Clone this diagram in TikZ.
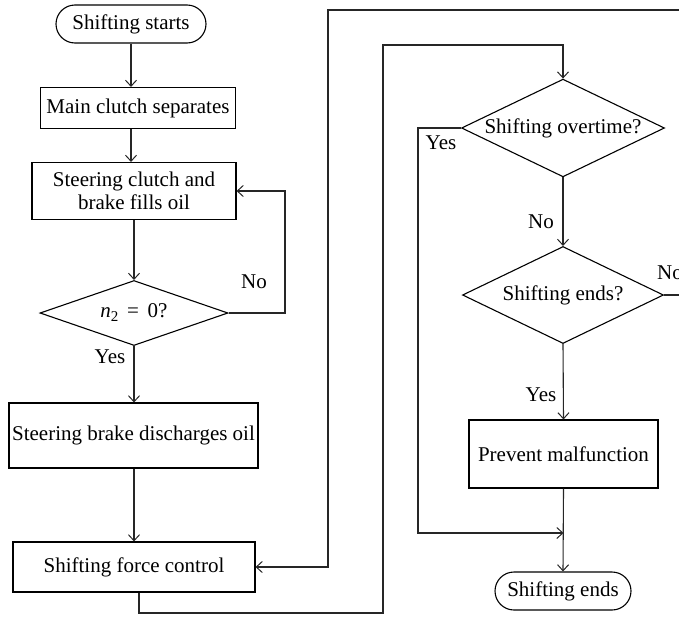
\documentclass[tikz,border=0pt]{standalone}
\usepackage{fontspec}
\setmainfont{Liberation Serif}
\usetikzlibrary{arrows.meta,shapes.geometric,shapes.misc}
\begin{document}
\begin{tikzpicture}[x=1pt,y=-1pt,
  every node/.style={font=\fontsize{21}{23}\selectfont},
  line/.style={line width=1.1pt, draw=black!85},
  arr/.style={line, -{Straight Barb[length=6pt,width=11pt,line width=1pt]}},
  procbox/.style={draw, line width=1.1pt, rectangle, inner sep=0pt, align=center},
  decide/.style={draw, line width=1.1pt, diamond, inner sep=0pt, shape aspect=2},
  term/.style={draw, line width=1.1pt, rounded rectangle, inner sep=0pt},
  lbl/.style={inner sep=0pt}]
\useasboundingbox (0,0) rectangle (679,616);
% nodes
\node[term, minimum width=150pt, minimum height=38pt] (start) at (131,24) {Shifting starts};
\node[procbox, minimum width=195pt, minimum height=41pt] (main) at (138,108) {Main clutch separates};
\node[procbox, minimum width=204pt, minimum height=57pt] (steer) at (134,191) {Steering clutch and\\brake fills oil};
\node[decide, shape aspect=3, minimum width=188pt, minimum height=65pt] (d1) at (134,313) {\textit{n}\raisebox{-4pt}{\fontsize{15}{15}\selectfont 2} \,=\, 0?};
\node[procbox, minimum width=249pt, minimum height=65pt] (brake) at (133.5,435.5) {Steering brake discharges oil};
\node[procbox, minimum width=242pt, minimum height=50pt] (force) at (134,567) {Shifting force control};
\node[decide, minimum width=203pt, minimum height=97pt] (d2) at (563,128) {Shifting overtime?};
\node[decide, minimum width=201pt, minimum height=97pt] (d3) at (563,295) {Shifting ends?};
\node[procbox, minimum width=189pt, minimum height=68pt] (prevent) at (563.5,454) {Prevent malfunction};
\node[term, minimum width=136pt, minimum height=38pt] (end) at (563,591) {Shifting ends};
% helper coordinates
\coordinate (ax) at (131,0);
\coordinate (r1) at (285,0);
\coordinate (far) at (700,10);
\coordinate (c1) at (328,10);
\coordinate (fx) at (139,0);
\coordinate (c2) at (383,613);
\coordinate (c3) at (383,45);
\coordinate (c4) at (418,533);
% connectors
\draw[arr] (start.south) -- (start.south |- main.north);
\draw[arr] (main.south -| ax) -- (steer.north -| ax);
\draw[arr] (steer.south -| d1) -- (d1.north);
\draw[arr] (d1.east) -| (r1 |- steer.east) -- (steer.east);
\draw[arr] (d1.south) -- (d1.south |- brake.north);
\draw[arr] (brake.south -| d1) -- (force.north -| d1);
\draw[arr] (d3.east) -| (far) -- (c1) |- (force.east);
\draw[arr] (force.south -| fx) |- (c2) -- (c3) -| (d2.north);
\draw[arr] (d2.south) -- (d3.north);
\draw[arr] (d3.south) -- (prevent.north);
\draw[arr] (d2.west) -| (c4) -- (c4 -| prevent.south);
\draw[arr] (prevent.south) -- (end.north);
% labels
\node[lbl] (no1) at (254,282) {No};
\node[lbl] (yes1) at (110,357) {Yes};
\node[lbl] (yes2) at (441,143) {Yes};
\node[lbl] (no2) at (541,222) {No};
\node[lbl] (yes3) at (541,395) {Yes};
\node[lbl, anchor=west] (no3) at (657,273) {No};
\end{tikzpicture}
\end{document}
